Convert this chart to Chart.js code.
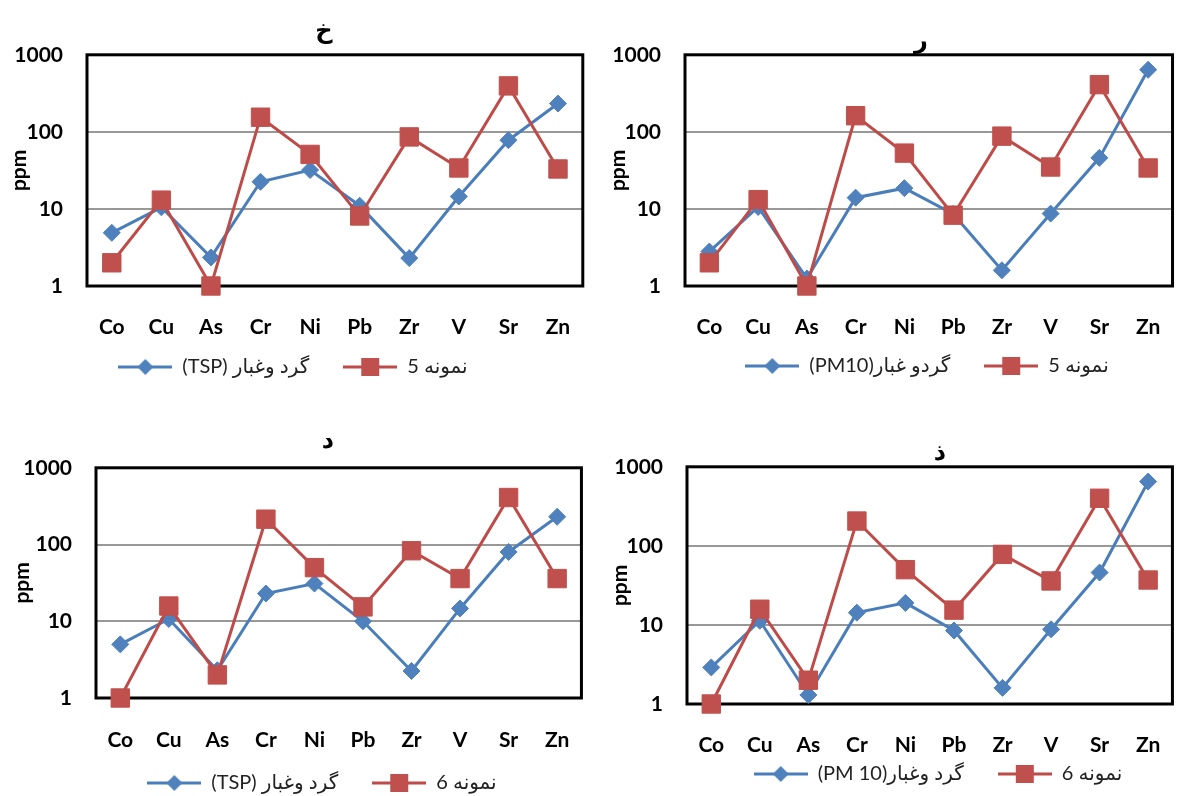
<!DOCTYPE html>
<html>
<head>
<meta charset="utf-8">
<script src="https://cdn.jsdelivr.net/npm/chart.js@4.4.1/dist/chart.umd.min.js"></script>
<style>
  html, body { margin: 0; padding: 0; background: #fff; overflow: hidden; }
  body { width: 1182px; height: 796px; position: relative; }
  canvas { position: absolute; }
</style>
</head>
<body>
<canvas id="c1"></canvas>
<canvas id="c2"></canvas>
<canvas id="c3"></canvas>
<canvas id="c4"></canvas>
<script>
// categories and tick values
const elements = ['Co', 'Cu', 'As', 'Cr', 'Ni', 'Pb', 'Zr', 'V', 'Sr', 'Zn'];
const yTicks = [1, 10, 100, 1000];

// values (ppm)
const tspA     = [4.9, 10.5, 2.35, 22.5, 32, 11, 2.3, 14.5, 78, 233];
const sample5A = [2.0, 13, 1, 155, 51, 8.1, 86, 34, 395, 33];
const pm10B    = [2.8, 10.6, 1.25, 14, 18.6, 8.6, 1.6, 8.7, 46, 640];
const sample5B = [2.0, 13.2, 1, 162, 53, 8.3, 88, 35, 410, 34];
const tspC     = [5.0, 10.7, 2.3, 23, 31, 10, 2.25, 14.7, 80, 230];
const sample6C = [1, 15.8, 2.0, 214, 50, 15.4, 83, 36, 410, 36];
const pm10D    = [2.9, 11.3, 1.3, 14.3, 19, 8.5, 1.6, 8.8, 46, 650];
const sample6D = [1, 15.8, 2.0, 206, 50, 15.4, 78, 36, 400, 37];

const titles = ['خ', 'ر', 'د', 'ذ'];
const dustLabels = ['(TSP) گرد وغبار', '(PM10)گردو غبار', '(TSP) گرد وغبار', '(PM 10)گرد وغبار'];
// canvas text runs left to right here, so the digit goes first
const sampleLabels = ['\u200E5 نمونه', '\u200E5 نمونه', '\u200E6 نمونه', '\u200E6 نمونه'];

const BLUE = '#4F81BD', BLUE_LINE = '#4A7EBB';
const RED = '#C0504D', RED_LINE = '#BE4B48';
const FONT = "Lato, 'DejaVu Sans', sans-serif";
const X_AXIS_H = 56;
const LEGEND_PAD = 34;
const LEGEND_FONT = 20;

// layout of each panel (absolute page pixels for titleX, legendX, legendY)
const panels = [
  {id: 'c1', left: 0,   top: 0,   w: 600, bottom: 286, yW: 87, padR: 17, tPad: [18, 10], xPad: 29, titleX: 324, legendX: 293, legendY: 367, ppmPad: 7,  dust: tspA,  sample: sample5A},
  {id: 'c2', left: 590, top: 0,   w: 600, bottom: 286, yW: 95, padR: 2,  tPad: [28, 0],  xPad: 29, titleX: 921, legendX: 927, legendY: 366, ppmPad: 16, dust: pm10B, sample: sample5B},
  {id: 'c3', left: 0,   top: 400, w: 600, bottom: 698, yW: 96, padR: 7,  tPad: [28, 13], xPad: 30, titleX: 328, legendX: 322, legendY: 783, ppmPad: 10, dust: tspC,  sample: sample6C},
  {id: 'c4', left: 590, top: 400, w: 600, bottom: 704, yW: 97, padR: 2,  tPad: [40, 0],  xPad: 29, titleX: 940, legendX: 938, legendY: 774, ppmPad: 18, dust: pm10D, sample: sample6D}
];

// legend icon: line with marker, like the excel legend
const legendIcon = (lineColor, fill, diamond) => {
  const c = document.createElement('canvas');
  c.width = 54; c.height = 20;
  const g = c.getContext('2d');
  g.strokeStyle = lineColor; g.lineWidth = 3;
  g.beginPath(); g.moveTo(0, 10); g.lineTo(54, 10); g.stroke();
  g.fillStyle = fill;
  g.beginPath();
  if (diamond) {
    g.moveTo(27, 2); g.lineTo(35, 10); g.lineTo(27, 18); g.lineTo(19, 10);
  } else {
    g.rect(18, 1, 18, 18);
  }
  g.closePath(); g.fill();
  return c;
};
const icons = [legendIcon(BLUE_LINE, BLUE, true), legendIcon(RED_LINE, RED, false)];

// black frame round the plot area
const framePlugin = {
  id: 'frame',
  beforeDatasetsDraw(chart) {
    const {ctx, chartArea: a} = chart;
    ctx.save();
    ctx.strokeStyle = '#000';
    ctx.lineWidth = 3;
    ctx.strokeRect(a.left, a.top, a.right - a.left, a.bottom - a.top);
    ctx.restore();
  }
};

// move title and legend to where they sit in the original
const shiftPlugin = {
  id: 'shift',
  afterLayout(chart, args, opts) {
    const t = chart.titleBlock;
    if (t) {
      const dx = opts.titleX - (t.left + t.right) / 2;
      t.left += dx; t.right += dx;
    }
    const lg = chart.legend;
    if (lg) {
      const dx = opts.legendX - (lg.left + lg.right) / 2;
      const dy = opts.legendY - (lg.top + LEGEND_PAD + LEGEND_FONT / 2);
      lg.left += dx; lg.right += dx;
      lg.top += dy; lg.bottom += dy;
    }
  }
};

panels.forEach((p, i) => {
  const cv = document.getElementById(p.id);
  const legendH = LEGEND_FONT + LEGEND_PAD + 10;
  cv.width = p.w;
  cv.height = p.bottom - p.top + X_AXIS_H + legendH;
  cv.style.left = p.left + 'px';
  cv.style.top = p.top + 'px';

  new Chart(cv.getContext('2d'), {
    type: 'line',
    data: {
      labels: elements,
      datasets: [{
        label: dustLabels[i],
        data: p.dust,
        borderColor: BLUE_LINE,
        backgroundColor: BLUE,
        pointBackgroundColor: BLUE,
        pointBorderColor: BLUE,
        pointStyle: 'rectRot',
        pointRadius: 8.5,
        pointBorderWidth: 1,
        borderWidth: 3,
        tension: 0,
        clip: false,
        order: 2
      }, {
        label: sampleLabels[i],
        data: p.sample,
        borderColor: RED_LINE,
        backgroundColor: RED,
        pointBackgroundColor: RED,
        pointBorderColor: RED,
        pointStyle: 'rect',
        pointRadius: 13,
        pointBorderWidth: 1,
        borderWidth: 3,
        tension: 0,
        clip: false,
        order: 1
      }]
    },
    options: {
      responsive: false,
      animation: false,
      devicePixelRatio: 1,
      layout: {padding: {left: 0, right: p.padR, top: 0, bottom: 0}},
      scales: {
        x: {
          type: 'category',
          offset: true,
          grid: {display: false, drawTicks: false},
          border: {display: false},
          ticks: {padding: p.xPad, color: '#000', maxRotation: 0, autoSkip: false,
                  font: {family: FONT, size: 21, weight: 'bold'}},
          afterFit: s => { s.height = X_AXIS_H; }
        },
        y: {
          type: 'logarithmic',
          min: 1,
          max: 1000,
          afterBuildTicks: s => { s.ticks = yTicks.map(v => ({value: v})); },
          afterFit: s => { s.width = p.yW; },
          grid: {drawTicks: false, color: '#989898', lineWidth: 2},
          border: {display: false},
          ticks: {padding: 24, color: '#000', callback: v => String(v),
                  font: {family: FONT, size: 21, weight: 'bold'}},
          title: {display: true, text: 'ppm', color: '#000',
                  font: {family: FONT, size: 21, weight: 'bold'},
                  padding: {top: p.ppmPad, bottom: 0}}
        }
      },
      plugins: {
        title: {
          display: true,
          text: titles[i],
          color: '#000',
          font: {family: "'DejaVu Sans', sans-serif", size: 24, weight: 'bold'},
          padding: {top: p.tPad[0] - 1, bottom: p.tPad[1] - 1}
        },
        legend: {
          position: 'bottom',
          labels: {
            usePointStyle: true,
            pointStyleWidth: 54,
            padding: LEGEND_PAD,
            color: '#222',
            font: {family: FONT, size: LEGEND_FONT},
            sort: (a, b) => a.datasetIndex - b.datasetIndex,
            generateLabels: chart => Chart.defaults.plugins.legend.labels.generateLabels(chart)
              .map(item => Object.assign(item, {pointStyle: icons[item.datasetIndex]}))
          }
        },
        tooltip: {enabled: false},
        shift: {titleX: p.titleX - p.left, legendX: p.legendX - p.left, legendY: p.legendY - p.top}
      }
    },
    plugins: [framePlugin, shiftPlugin]
  });
});
</script>
</body>
</html>
